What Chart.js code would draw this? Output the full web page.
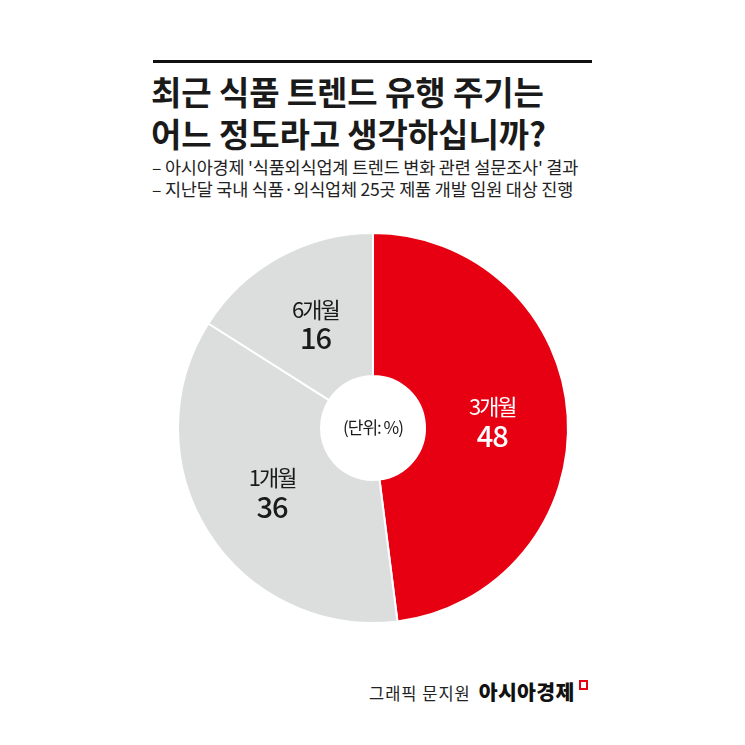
<!DOCTYPE html>
<html>
<head>
<meta charset="utf-8">
<script src="https://cdn.jsdelivr.net/npm/chart.js@4.4.1/dist/chart.umd.min.js"></script>
<style>
  html, body { margin: 0; padding: 0; background: #fff; }
  body { width: 745px; height: 745px; position: relative; overflow: hidden;
         font-family: "Noto Sans CJK KR", "Noto Sans", sans-serif; color: #1a1a1a; }
  .rule { position: absolute; left: 153px; top: 60px; width: 439px; height: 3px; background: #111; }
  .title { position: absolute; left: 151px; top: 70px; font-size: 33px; font-weight: 700;
           line-height: 42px; letter-spacing: -0.1px; white-space: nowrap; }
  .sub { position: absolute; left: 152px; top: 156px; font-size: 17.5px; font-weight: 400;
         line-height: 22px; letter-spacing: -0.2px; color: #222; white-space: nowrap; }
  .chartBox { position: absolute; left: 173px; top: 228px; width: 400px; height: 400px; }
  .credit { position: absolute; left: 369px; top: 676px; font-size: 16.5px; letter-spacing: 1px;
            white-space: nowrap; color: #222; }
  .credit b { font-size: 20.5px; font-weight: 900; letter-spacing: 0.3px; margin-left: 8px; color: #111; }
  .credit i { display: inline-block; width: 5px; height: 6px; border: 2px solid #e60012;
              margin-left: 4px; vertical-align: 10px; }
</style>
</head>
<body>
<div class="rule"></div>
<div class="title">최근 식품 트렌드 유행 주기는<br>어느 정도라고 생각하십니까?</div>
<div class="sub">– 아시아경제 '식품외식업계 트렌드 변화 관련 설문조사' 결과<br>– 지난달 국내 식품·외식업체 25곳 제품 개발 임원 대상 진행</div>
<div class="chartBox"><canvas id="pie" width="400" height="400"></canvas></div>
<div class="credit">그래픽 문지원<b>아시아경제</b><i></i></div>

<script>
// survey answers (unit: %)
const categories = ['3개월', '1개월', '6개월'];
const shares = [48, 36, 16];
const sliceColors = ['#e60012', '#dcdddd', '#dcdddd'];
const labelColors = ['#ffffff', '#1a1a1a', '#1a1a1a'];
const unitText = '(단위: %)';

// write name + value inside each slice, and the unit in the hole
const sliceLabels = {
  id: 'sliceLabels',
  afterDatasetsDraw(chart) {
    const ctx = chart.ctx;
    const meta = chart.getDatasetMeta(0);
    ctx.save();
    ctx.textAlign = 'center';
    ctx.textBaseline = 'middle';
    meta.data.forEach(function(arc, i) {
      const p = arc.getProps(['x', 'y', 'startAngle', 'endAngle', 'innerRadius', 'outerRadius'], true);
      const mid = (p.startAngle + p.endAngle) / 2;
      const r = (p.innerRadius + p.outerRadius) / 2 - 4;
      const cx = p.x + Math.cos(mid) * r;
      const cy = p.y + Math.sin(mid) * r;
      ctx.fillStyle = labelColors[i];
      ctx.letterSpacing = '-2px';
      ctx.font = '400 22px "Noto Sans CJK KR"';
      ctx.fillText(categories[i], cx, cy - 14);
      ctx.letterSpacing = '-1px';
      ctx.font = '500 29px "Noto Sans CJK KR"';
      ctx.fillText(String(shares[i]), cx, cy + 15);
    });
    const c = meta.data[0];
    ctx.fillStyle = '#1a1a1a';
    ctx.letterSpacing = '-1px';
    ctx.font = '400 17px "Noto Sans CJK KR"';
    ctx.fillText(unitText, c.x, c.y);
    ctx.restore();
  }
};

window.pieChart = new Chart(document.getElementById('pie').getContext('2d'), {
  type: 'doughnut',
  data: {
    labels: categories,
    datasets: [{
      data: shares,
      backgroundColor: sliceColors,
      borderColor: '#ffffff',
      borderWidth: 2,
      hoverOffset: 0
    }]
  },
  options: {
    responsive: false,
    animation: false,
    cutout: 52,
    layout: { padding: 4 },
    plugins: {
      legend: { display: false },
      tooltip: { enabled: false }
    }
  },
  plugins: [sliceLabels]
});
</script>
</body>
</html>
